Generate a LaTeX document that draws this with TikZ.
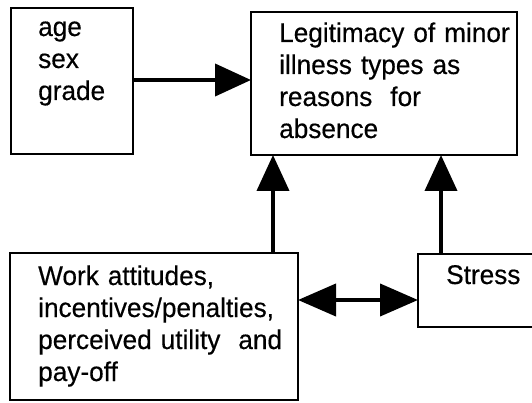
\documentclass[tikz,border=0pt]{standalone}
\usepackage{fontspec}
\setmainfont{Liberation Sans}[FakeStretch=0.97,FakeBold=0.4]
\usetikzlibrary{arrows.meta}
\begin{document}
\begin{tikzpicture}[x=1pt,y=-1pt,
  box/.style={draw,line width=2.6pt,inner sep=0pt,outer sep=0pt,anchor=north west},
  label/.style={anchor=base west,inner sep=0pt,text width=280pt,align=left,
    font=\fontsize{27pt}{32pt}\selectfont},
  arr/.style={line width=4pt,-{Triangle[length=36pt,width=32pt]}},
  dblarr/.style={line width=4pt,{Triangle[length=38pt,width=32pt]}-{Triangle[length=38pt,width=32pt]}}]
  \useasboundingbox (0,0) rectangle (532,403);
  \fill[white] (0,0) rectangle (532,403);

  % boxes
  \node[box,minimum width=122pt,minimum height=146pt] (agebox) at (11,8) {};
  \node[box,minimum width=266pt,minimum height=143pt] (legit) at (251,12) {};
  \node[box,minimum width=288pt,minimum height=147pt] (work) at (10,253) {};
  \node[box,minimum width=150pt,minimum height=73pt] (stress) at (418,254) {};

  % texts
  \node[label] (agetxt) at (38,36) {age\\sex\\grade};
  \node[label] (legittxt) at (279,42) {Legitimacy of minor\\illness types as\\reasons\ \ for\\absence};
  \node[label] (worktxt) at (38,285) {Work attitudes,\\incentives/penalties,\\perceived utility\ \ and\\pay-off};
  \node[label] (stresstxt) at (446,284) {Stress};

  % connectors
  \draw[arr] ([yshift=-72pt]agebox.north east) -- ([yshift=-72pt]agebox.north east -| legit.west);
  \draw[arr] ([xshift=263pt]work.north west) -- ([xshift=263pt]work.north west |- legit.south);
  \draw[arr] ([xshift=23pt]stress.north west) -- ([xshift=23pt]stress.north west |- legit.south);
  \draw[dblarr] ([yshift=-47pt]work.north east) -- ([yshift=-47pt]work.north east -| stress.west);
\end{tikzpicture}
\end{document}
